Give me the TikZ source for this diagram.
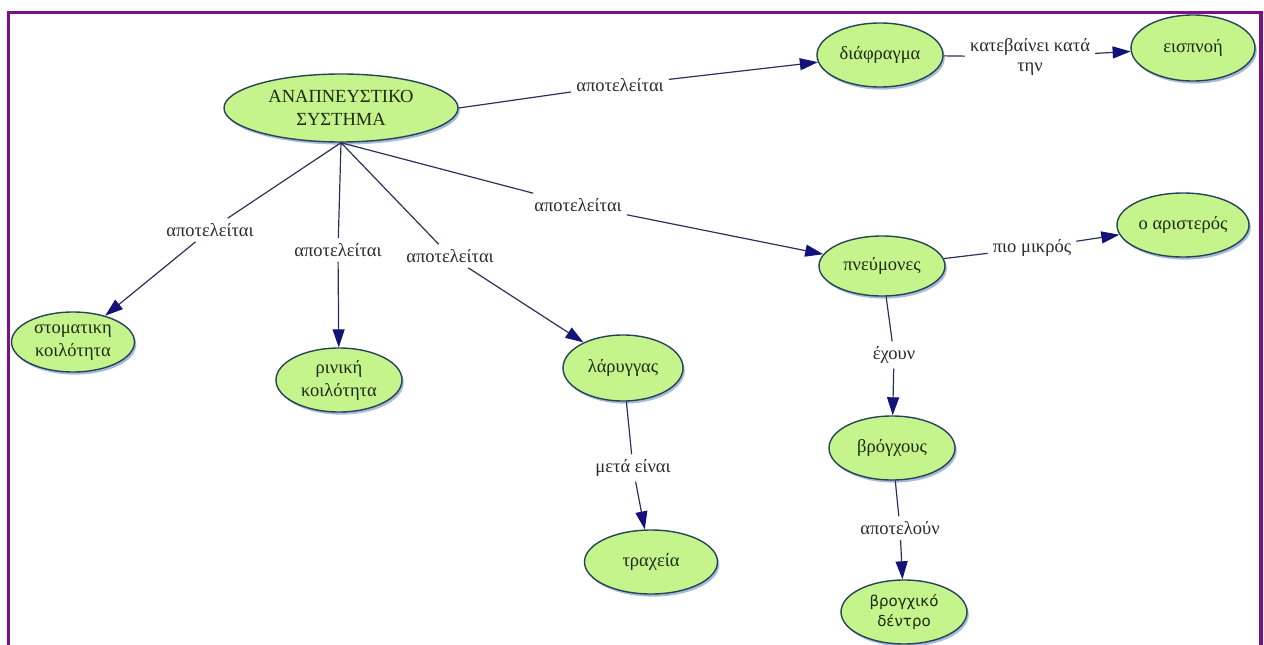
\documentclass[tikz,border=0pt]{standalone}
\usepackage{fontspec}
\setmainfont{Liberation Serif}
\newfontfamily\sansgr{DejaVu Sans}
\usetikzlibrary{shapes.geometric,arrows.meta,shadows}

\definecolor{framepurple}{HTML}{7E0F88}
\definecolor{nodefill}{HTML}{C5F38C}
\definecolor{nodeedge}{HTML}{264458}
\definecolor{shadowblue}{HTML}{5F82BA}
\definecolor{linkline}{HTML}{2E2E5E}
\definecolor{tipnavy}{HTML}{12127A}
\definecolor{nodetext}{HTML}{1E2A14}
\definecolor{labeltext}{HTML}{2A2A2A}

\tikzset{
  concept/.style={ellipse, draw=nodeedge, line width=1.4pt, fill=nodefill,
    inner sep=0pt, minimum width=126pt, minimum height=64pt, align=center,
    text=nodetext, font=\fontsize{18.5}{23}\selectfont,
    general shadow={fill=shadowblue, opacity=0.55,
      shadow xshift=1.8pt, shadow yshift=-2.6pt}},
  linkword/.style={fill=white, inner xsep=5pt, inner ysep=5pt, align=center,
    text=labeltext, font=\fontsize{18.5}{20}\selectfont},
  link/.style={draw=linkline, line width=1.2pt},
  linkarrow/.style={link,
    -{Triangle[length=18pt,width=12pt,color=tipnavy]}},
  frameline/.style={draw=framepurple, line width=3.5pt},
}

\begin{document}
\begin{tikzpicture}[x=1pt, y=-1pt]
\useasboundingbox (0,0) rectangle (1264,645);

% page frame (open at the bottom)
\draw[frameline] (8.5,650) -- (8.5,12.5) -- (1261,12.5) -- (1261,650);

% concepts
\node[concept, minimum width=234pt, minimum height=68pt] (ana) at (341,108)
  {ΑΝΑΠΝΕΥΣΤΙΚΟ\\ΣΥΣΤΗΜΑ};
\node[concept] (dia) at (880,55) {διάφραγμα};
\node[concept, minimum width=124pt, minimum height=66pt] (eis) at (1193,48) {εισπνοή};
\node[concept, minimum width=132pt] (ari) at (1183,225) {ο αριστερός};
\node[concept, minimum height=60pt] (pne) at (882,266) {πνεύμονες};
\node[concept] (bro) at (892,448) {βρόγχους};
\node[concept, font=\sansgr\fontsize{15}{20}\selectfont] (den) at (904,612)
  {βρογχικό\\δέντρο};
\node[concept, minimum width=133pt] (tra) at (651,562) {τραχεία};
\node[concept, minimum width=120pt, minimum height=66pt] (lar) at (623,368) {λάρυγγας};
\node[concept] (rin) at (339,380) {ρινική\\κοιλότητα};
\node[concept, minimum width=123pt, minimum height=60pt] (sto) at (73,342)
  {στοματικη\\κοιλότητα};

% linking phrases
\node[linkword] (l1) at (620,85) {αποτελείται};
\node[linkword] (l2) at (1030,57) {κατεβαίνει κατά\\την};
\node[linkword] (l3) at (210,230) {αποτελείται};
\node[linkword] (l4) at (338,250) {αποτελείται};
\node[linkword] (l5) at (450,256) {αποτελείται};
\node[linkword] (l6) at (578,205) {αποτελείται};
\node[linkword] (l7) at (1032,248) {πιο μικρός};
\node[linkword] (l8) at (894,355) {έχουν};
\node[linkword] (l9) at (633,468) {μετά είναι};
\node[linkword] (l10) at (900,528) {αποτελούν};

% connections
\draw[link] (ana.east) -- (l1);  \draw[linkarrow] (l1) -- (dia);
\draw[link] (dia) -- (l2);       \draw[linkarrow] (l2) -- (eis);
\draw[link] (ana.south) -- (l3); \draw[linkarrow] (l3) -- (sto);
\draw[link] (ana.south) -- (l4); \draw[linkarrow] (l4) -- (rin);
\draw[link] (ana.south) -- (l5); \draw[linkarrow] (l5) -- (lar);
\draw[link] (ana.south) -- (l6); \draw[linkarrow] (l6) -- (pne);
\draw[link] (pne) -- (l7);       \draw[linkarrow] (l7) -- (ari);
\draw[link] (pne) -- (l8);       \draw[linkarrow] (l8) -- (bro);
\draw[link] (lar) -- (l9);       \draw[linkarrow] (l9) -- (tra);
\draw[link] (bro) -- (l10);      \draw[linkarrow] (l10) -- (den);
\end{tikzpicture}
\end{document}
